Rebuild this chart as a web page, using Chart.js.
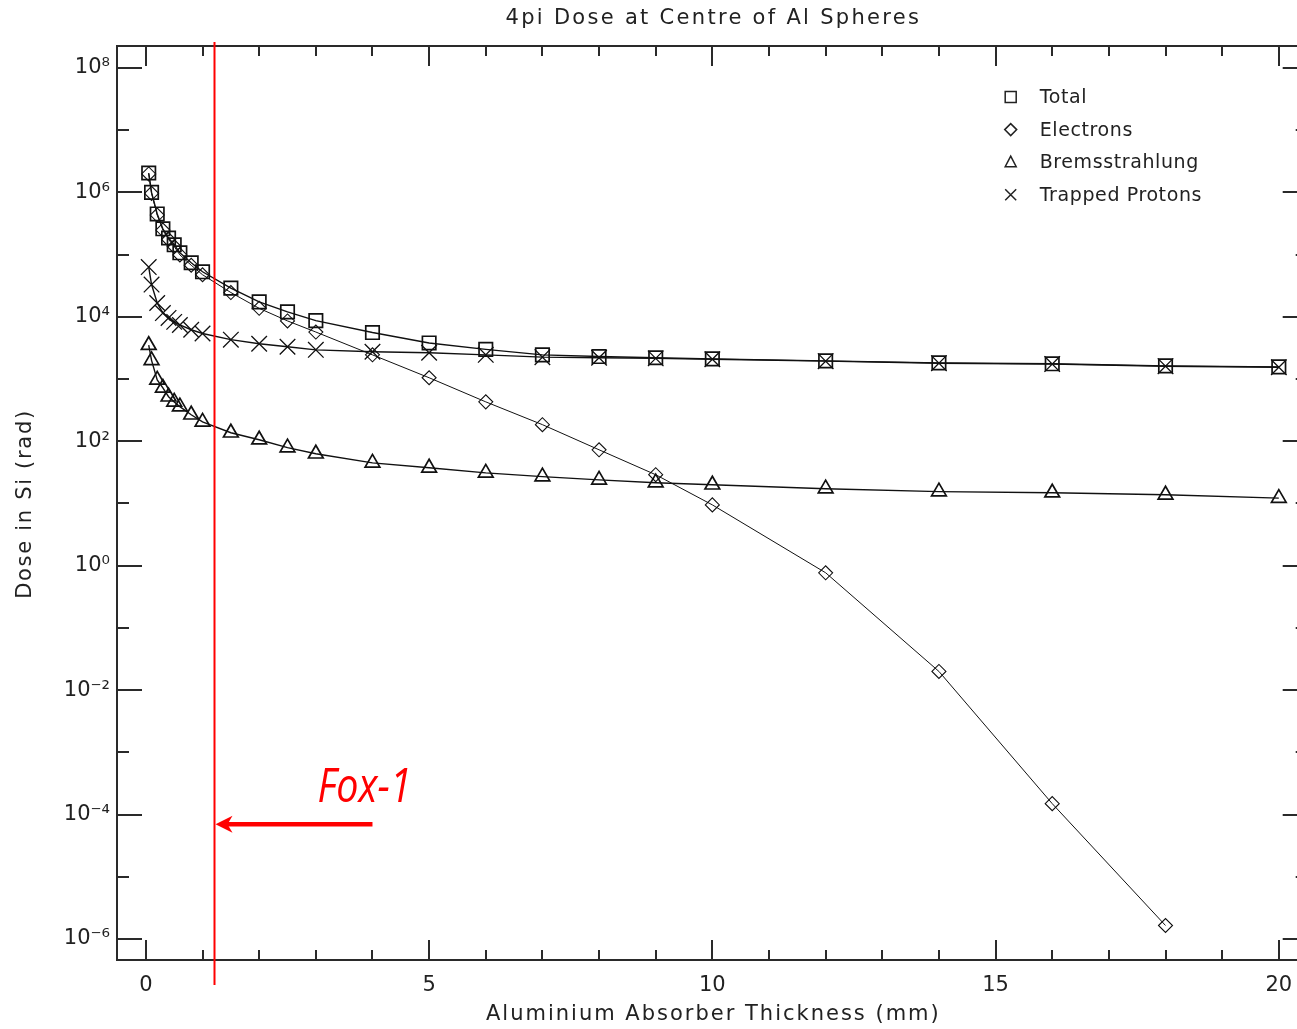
<!DOCTYPE html>
<html><head><meta charset="utf-8">
<script src="https://cdn.jsdelivr.net/npm/chart.js@4.4.1/dist/chart.umd.min.js"></script>
<style>
html,body{margin:0;padding:0;background:#fff;overflow:hidden;width:1297px;height:1029px}
#wrap{position:relative;width:1320px;height:1029px}
canvas{display:block}
</style></head><body>
<div id="wrap"><canvas id="c" width="1320" height="1029"></canvas></div>
<script>
// ---------- data ----------
const THICKNESS = [0.05, 0.1, 0.2, 0.3, 0.4, 0.5, 0.6, 0.8, 1.0, 1.5, 2.0, 2.5, 3.0, 4.0, 5.0, 6.0, 7.0, 8.0, 9.0, 10.0, 12.0, 14.0, 16.0, 18.0, 20.0];
const TOTAL = [2.05e6, 1.0e6, 4.5e5, 2.6e5, 1.85e5, 1.44e5, 1.07e5, 7.4e4, 5.3e4, 2.9e4, 1.74e4, 1.2e4, 8.7e3, 5.6e3, 3.8e3, 3.0e3, 2.45e3, 2.3e3, 2.2e3, 2.11e3, 1.96e3, 1.82e3, 1.76e3, 1.63e3, 1.57e3];
const ELECTRONS = [1.98e6, 9.65e5, 4.32e5, 2.48e5, 1.75e5, 1.35e5, 9.9e4, 6.75e4, 4.75e4, 2.46e4, 1.37e4, 8.6e3, 5.7e3, 2.45e3, 1.05e3, 430, 185, 73, 29, 9.5, 0.77, 0.02, 1.5e-4, 1.65e-6, null];
const BREMSSTRAHLUNG = [3.5e3, 2.0e3, 970, 720, 520, 430, 360, 267, 205, 137, 106, 79, 63, 45, 37.5, 31, 27, 24, 21.6, 20, 17.3, 15.5, 14.9, 13.8, 12.2];
const TRAPPED_PROTONS = [6.3e4, 3.3e4, 1.67e4, 1.15e4, 9.6e3, 8.3e3, 7.4e3, 6.2e3, 5.4e3, 4.3e3, 3.7e3, 3.3e3, 2.95e3, 2.75e3, 2.65e3, 2.45e3, 2.25e3, 2.2e3, 2.15e3, 2.08e3, 1.94e3, 1.80e3, 1.74e3, 1.61e3, 1.55e3];

const SERIES_LABELS = ['Total', 'Electrons', 'Bremsstrahlung', 'Trapped Protons'];
const X_TICKS = [0, 5, 10, 15, 20];
const X_TICK_LABELS = ['0', '5', '10', '15', '20'];
const Y_TICK_EXPONENTS = [-6, -4, -2, 0, 2, 4, 6, 8];
const Y_TICK_LABELS = ['10\u207B\u2076', '10\u207B\u2074', '10\u207B\u00B2', '10\u2070', '10\u00B2', '10\u2074', '10\u2076', '10\u2078'];

const TITLE = '4pi Dose at Centre of Al Spheres';
const X_TITLE = 'Aluminium Absorber Thickness (mm)';
const Y_TITLE = 'Dose in Si (rad)';

const FOX1_LABEL = 'Fox-1';
const FOX1_THICKNESS = 1.2;      // mm, red vertical line
const FOX1_ARROW_TAIL = 4.0;     // mm
const FOX1_ARROW_DOSE = 7e-5;    // rad, arrow height

// ---------- helpers ----------
const FONT = 'DejaVu Sans';
const toPts = arr => THICKNESS.map((t, i) => ({x: t, y: arr[i]}));

function marker(ctx, style, x, y) {
  ctx.beginPath();
  if (style === 'rect') { ctx.rect(x - 5.5, y - 5.5, 11, 11); }
  else if (style === 'rectRot') { const r = 6; ctx.moveTo(x - r, y); ctx.lineTo(x, y - r); ctx.lineTo(x + r, y); ctx.lineTo(x, y + r); ctx.closePath(); }
  else if (style === 'triangle') { ctx.moveTo(x, y - 6); ctx.lineTo(x + 5.5, y + 4.5); ctx.lineTo(x - 5.5, y + 4.5); ctx.closePath(); }
  else if (style === 'crossRot') { const r = 5.5; ctx.moveTo(x - r, y - r); ctx.lineTo(x + r, y + r); ctx.moveTo(x + r, y - r); ctx.lineTo(x - r, y + r); }
  ctx.stroke();
}

const frameTicks = {
  id: 'frameTicks',
  beforeDatasetsDraw(chart) {
    const {ctx, chartArea: a, scales: {x, y}} = chart;
    ctx.save();
    ctx.strokeStyle = '#2a2a2a';
    ctx.lineWidth = 2;
    ctx.strokeRect(a.left, a.top, a.right - a.left, a.bottom - a.top);
    ctx.beginPath();
    for (let v = Math.ceil(x.min); v <= x.max; v++) {
      const px = Math.round(x.getPixelForValue(v));
      const len = v % 5 === 0 ? 20 : 10;
      ctx.moveTo(px, a.bottom); ctx.lineTo(px, a.bottom - len);
      ctx.moveTo(px, a.top); ctx.lineTo(px, a.top + len);
    }
    const e0 = Math.ceil(Math.log10(y.min)), e1 = Math.floor(Math.log10(y.max));
    for (let e = e0; e <= e1; e++) {
      const py = Math.round(y.getPixelForValue(Math.pow(10, e)));
      const len = e % 2 === 0 ? 25 : 12;
      ctx.moveTo(a.left, py); ctx.lineTo(a.left + len, py);
      ctx.moveTo(a.right, py); ctx.lineTo(a.right - len, py);
    }
    ctx.stroke();
    ctx.restore();
  }
};

const titles = {
  id: 'titles',
  afterDraw(chart) {
    const {ctx, chartArea: a} = chart;
    const cx = (a.left + a.right) / 2, cy = (a.top + a.bottom) / 2;
    ctx.save();
    ctx.fillStyle = '#222';
    ctx.font = '21px "' + FONT + '"';
    ctx.textAlign = 'center';
    ctx.textBaseline = 'middle';
    ctx.letterSpacing = '2.3px';
    ctx.fillText(TITLE, cx + 1, a.top - 27);
    ctx.letterSpacing = '2.0px';
    ctx.fillText(X_TITLE, cx + 1, a.bottom + 55);
    ctx.letterSpacing = '1.7px';
    ctx.translate(a.left - 91, cy + 2);
    ctx.rotate(-Math.PI / 2);
    ctx.fillText(Y_TITLE, 1, 0);
    ctx.restore();
  }
};

const legendBox = {
  id: 'legendBox',
  afterDraw(chart) {
    const {ctx, chartArea: a} = chart;
    const sx = a.right - 297, tx = a.right - 268, y0 = a.top + 51, dy = 32.6;
    ctx.save();
    ctx.font = '19px "' + FONT + '"';
    ctx.letterSpacing = '0.6px';
    ctx.fillStyle = '#222';
    ctx.strokeStyle = '#222';
    ctx.lineWidth = 1.5;
    ctx.textBaseline = 'middle';
    chart.data.datasets.forEach((ds, i) => {
      const cy = y0 + i * dy;
      marker(ctx, ds.pointStyle, sx, cy);
      ctx.fillText(ds.label, tx, cy + 1);
    });
    ctx.restore();
  }
};

const fox1 = {
  id: 'fox1',
  afterDraw(chart) {
    const {ctx, chartArea: a, scales: {x, y}} = chart;
    const px = Math.round(x.getPixelForValue(FOX1_THICKNESS)) + 0.5;
    const ay = y.getPixelForValue(FOX1_ARROW_DOSE);
    const tail = x.getPixelForValue(FOX1_ARROW_TAIL);
    ctx.save();
    ctx.strokeStyle = '#ff0000';
    ctx.fillStyle = '#ff0000';
    ctx.lineWidth = 2;
    ctx.beginPath();
    ctx.moveTo(px, a.top - 4); ctx.lineTo(px, a.bottom + 25);
    ctx.stroke();
    // arrow shaft
    ctx.lineWidth = 4.5;
    ctx.beginPath();
    ctx.moveTo(tail, ay); ctx.lineTo(px + 12, ay);
    ctx.stroke();
    // arrow head
    ctx.beginPath();
    ctx.moveTo(px + 1, ay);
    ctx.lineTo(px + 18, ay - 8.5);
    ctx.lineTo(px + 13, ay);
    ctx.lineTo(px + 18, ay + 8.5);
    ctx.closePath();
    ctx.fill();
    // label
    ctx.font = 'italic 47px "Open Sans"';
    ctx.textBaseline = 'alphabetic';
    ctx.translate(px + 103, ay - 22);
    ctx.scale(0.84, 1);
    ctx.fillText(FOX1_LABEL, 0, 0);
    ctx.restore();
  }
};

Chart.defaults.font.family = FONT;
Chart.defaults.color = '#222';

const ds = (label, data, style, radius, bw, lw) => ({
  label, data: toPts(data), pointStyle: style, pointRadius: radius, pointHoverRadius: radius,
  pointBorderWidth: bw, pointBorderColor: '#111', pointBackgroundColor: 'rgba(0,0,0,0)',
  borderColor: '#111', borderWidth: lw, backgroundColor: 'rgba(0,0,0,0)',
  showLine: true, tension: 0, spanGaps: false, fill: false
});

new Chart(document.getElementById('c'), {
  type: 'scatter',
  data: {
    datasets: [
      ds(SERIES_LABELS[0], TOTAL, 'rect', 9.5, 1.7, 1.4),
      ds(SERIES_LABELS[1], ELECTRONS, 'rectRot', 7, 1.1, 1.0),
      ds(SERIES_LABELS[2], BREMSSTRAHLUNG, 'triangle', 8.5, 1.7, 1.4),
      ds(SERIES_LABELS[3], TRAPPED_PROTONS, 'crossRot', 11, 1.3, 1.4)
    ]
  },
  options: {
    responsive: false,
    animation: false,
    devicePixelRatio: 1,
    layout: {padding: {left: 0, right: 12, top: 46, bottom: 0}},
    plugins: {
      legend: {display: false},
      tooltip: {enabled: false},
      title: {display: false}
    },
    scales: {
      x: {
        type: 'linear', min: -0.51, max: 20.51, bounds: 'data',
        grid: {display: false, drawTicks: false},
        border: {display: false},
        afterBuildTicks: s => { s.ticks = X_TICKS.map(v => ({value: v})); },
        afterFit: s => { s.height = 69; },
        ticks: {
          padding: 13, maxRotation: 0, autoSkip: false,
          font: {family: FONT, size: 21},
          callback: (v) => X_TICK_LABELS[X_TICKS.indexOf(v)]
        },
        title: {display: false}
      },
      y: {
        type: 'logarithmic', min: Math.pow(10, -6.337), max: Math.pow(10, 8.353), bounds: 'data',
        grid: {display: false, drawTicks: false},
        border: {display: false},
        afterBuildTicks: s => { s.ticks = Y_TICK_EXPONENTS.map(e => ({value: Math.pow(10, e)})); },
        afterFit: s => { s.width = 117; },
        ticks: {
          padding: 7, autoSkip: false,
          font: {family: FONT, size: 21},
          callback: (v) => Y_TICK_LABELS[Y_TICK_EXPONENTS.indexOf(Math.round(Math.log10(v)))]
        },
        title: {display: false}
      }
    }
  },
  plugins: [frameTicks, titles, legendBox, fox1]
});
</script>
</body></html>
